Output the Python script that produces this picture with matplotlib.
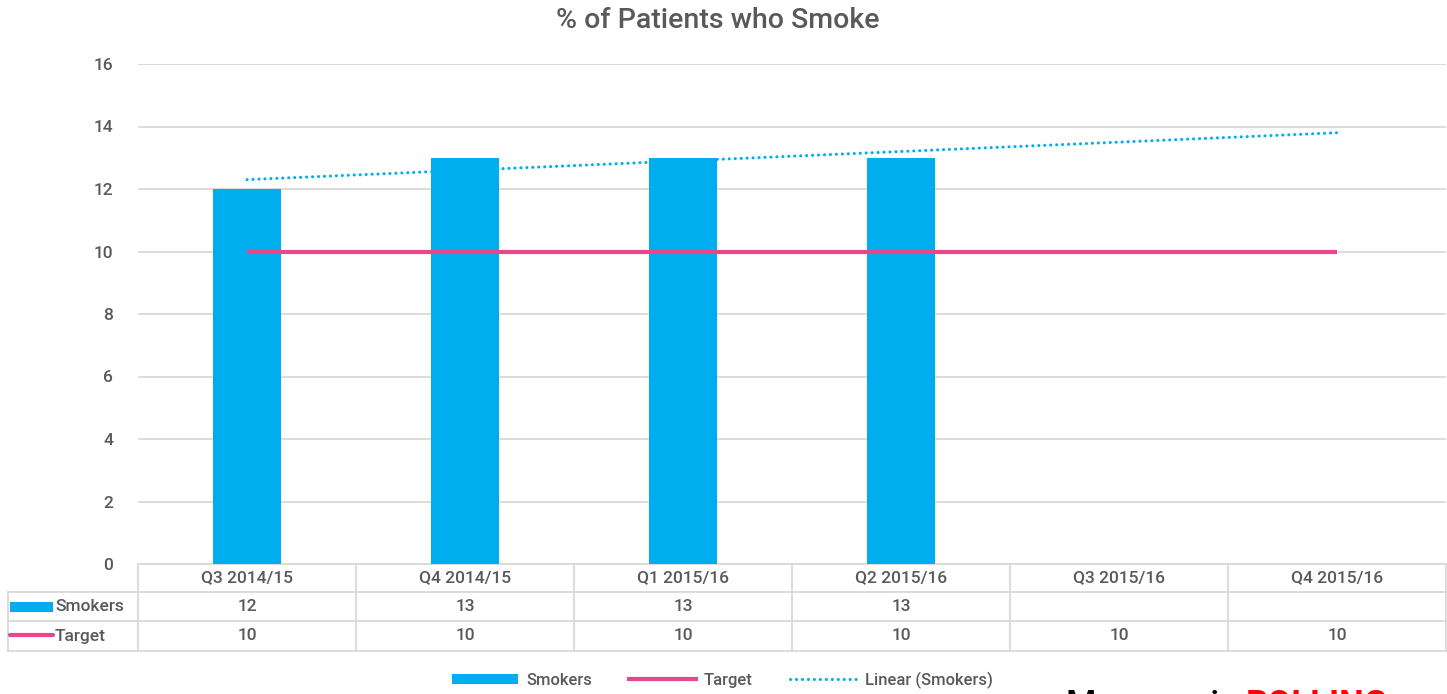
import numpy as np
import matplotlib
matplotlib.use("Agg")
import matplotlib.pyplot as plt
from matplotlib.patches import Rectangle
from matplotlib.lines import Line2D
import matplotlib.transforms as mtransforms

plt.rcParams['font.family'] = ['Roboto', 'DejaVu Sans']
plt.rcParams['font.weight'] = 'medium'

# ------------------------------------------------------------------
# DATA
# ------------------------------------------------------------------
quarters = ['Q3 2014/15', 'Q4 2014/15', 'Q1 2015/16', 'Q2 2015/16', 'Q3 2015/16', 'Q4 2015/16']
smokers = [12, 13, 13, 13]
target = [10, 10, 10, 10, 10, 10]
y_ticks = [0, 2, 4, 6, 8, 10, 12, 14, 16]

blue = '#00AEEF'
pink = '#E8478B'
txt = '#595959'
grid_c = '#D9D9D9'
dots = (0, (0.05, 1.9))

W, H = 1447, 694
fig = plt.figure(figsize=(W / 100, H / 100), dpi=100)
fig.patch.set_facecolor('white')

# plot area in pixels
left, right, top, bottom = 138, 1446, 64, 564
ax = fig.add_axes([left / W, 1 - bottom / H, (right - left) / W, (bottom - top) / H])

x = np.arange(len(quarters))
xs = np.arange(len(smokers))

ax.bar(xs, smokers, width=0.31, color=blue, zorder=3)
ax.plot(x, target, color=pink, linewidth=3, solid_capstyle='butt', zorder=4)

# linear trend of smokers, extended across all quarters
coef = np.polyfit(xs, smokers, 1)
ax.plot(x, np.polyval(coef, x), color=blue, linestyle=dots, dash_capstyle='round',
        linewidth=2.2, zorder=4)

ax.set_xlim(-0.5, len(quarters) - 0.5)
ax.set_ylim(0, 16)
ax.set_yticks(y_ticks)
ax.set_xticks([])
ax.tick_params(axis='y', length=0, pad=18, labelsize=12.5, labelcolor=txt)
for s in ax.spines.values():
    s.set_visible(False)
ax.grid(axis='y', color=grid_c, linewidth=1.3, zorder=0)
ax.set_axisbelow(True)

fig.text(718 / W, 1 - 21 / H, '% of Patients who Smoke', fontsize=20.5, color=txt,
         ha='center', va='center')

# ------------------------------------------------------------------
# DATA TABLE below the chart
# ------------------------------------------------------------------
ph = bottom - top
trans = mtransforms.blended_transform_factory(ax.transData, ax.transAxes)
row_y = [0, -28 / ph, -57 / ph, -87 / ph]  # header / smokers / target borders
xl = -0.5 - 130 / 218  # left edge of label column
lc = dict(color=grid_c, linewidth=1.3, transform=trans, clip_on=False)

ax.plot([-0.5, len(quarters) - 0.5], [row_y[0]] * 2, **lc)
for yy in row_y[1:]:
    ax.plot([xl, len(quarters) - 0.5], [yy, yy], **lc)
for i in range(len(quarters) + 1):
    ax.plot([i - 0.5, i - 0.5], [row_y[0], row_y[3]], **lc)
ax.plot([xl, xl], [row_y[1], row_y[3]], **lc)

fs = 12.5
for i, q in enumerate(quarters):
    ax.text(i, (row_y[0] + row_y[1]) / 2, q, transform=trans, ha='center', va='center',
            fontsize=fs, color=txt)
for i, v in enumerate(smokers):
    ax.text(i, (row_y[1] + row_y[2]) / 2, str(v), transform=trans, ha='center', va='center',
            fontsize=fs, color=txt)
for i, v in enumerate(target):
    ax.text(i, (row_y[2] + row_y[3]) / 2, str(v), transform=trans, ha='center', va='center',
            fontsize=fs, color=txt)

# row labels with legend keys
ax.add_patch(Rectangle((xl + 2 / 218, (row_y[1] + row_y[2]) / 2 - 5 / ph), 43 / 218, 10 / ph,
                       facecolor=blue, edgecolor='none', transform=trans, clip_on=False))
ax.plot([xl + 2 / 218, xl + 45 / 218], [(row_y[2] + row_y[3]) / 2 + 1 / ph] * 2, color=pink,
        linewidth=3, solid_capstyle='round', transform=trans, clip_on=False)
ax.text(xl + 47 / 218, (row_y[1] + row_y[2]) / 2, 'Smokers', transform=trans, va='center',
        fontsize=fs, color=txt)
ax.text(xl + 47 / 218, (row_y[2] + row_y[3]) / 2, 'Target', transform=trans, va='center',
        fontsize=fs, color=txt)

# ------------------------------------------------------------------
# LEGEND
# ------------------------------------------------------------------
handles = [Rectangle((0, 0), 1, 1, facecolor=blue, edgecolor='none'),
           Line2D([], [], color=pink, linewidth=3),
           Line2D([], [], color=blue, linestyle=dots, dash_capstyle='round', linewidth=2.2)]
labels = ['Smokers', 'Target', 'Linear (Smokers)']
fig.legend(handles, labels, loc='center', bbox_to_anchor=(722 / W, 1 - 680 / H), ncol=3,
           frameon=False, fontsize=12, labelcolor=txt, handlelength=4.0, handleheight=0.55,
           columnspacing=2.2, handletextpad=0.5)

# note at the bottom right (cut by the edge in the original)
t1 = fig.text(1066 / W, 1 - 689 / H, 'Measure is ', fontsize=25, color='black', va='top',
              fontweight='medium')
fig.canvas.draw()
bb = t1.get_window_extent()
fig.text(bb.x1 / W, 1 - 689 / H, 'ROLLING', fontsize=25, color='red', fontweight='bold', va='top')

fig.savefig('out.png', dpi=100)
